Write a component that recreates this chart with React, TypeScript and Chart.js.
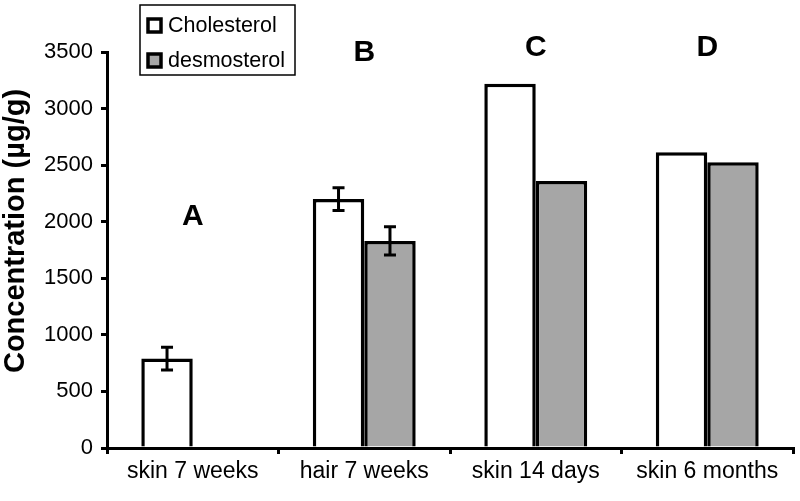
import React, { useEffect, useRef } from "react";
import { Chart, registerables } from "chart.js";

Chart.register(...registerables);

const categories = ["skin 7 weeks", "hair 7 weeks", "skin 14 days", "skin 6 months"];
const cholesterol = [790, 2200, 3220, 2615];
const cholesterolErr = [100, 100, 0, 0];
const desmosterol: (number | null)[] = [null, 1830, 2360, 2525];
const desmosterolErr = [0, 125, 0, 0];
const groupLetters = ["A", "B", "C", "D"];
const letterLevels = [2040, 3490, 3535, 3535];
const yTicks = [0, 500, 1000, 1500, 2000, 2500, 3000, 3500];
const yTitle = "Concentration (µg/g)";

const FONT = '"Liberation Sans", Arial, Helvetica, sans-serif';

const errorBarPlugin = {
  id: "errorBars",
  afterDatasetsDraw(chart: any) {
    const ctx = chart.ctx;
    const yScale = chart.scales.y;
    const errs = [cholesterolErr, desmosterolErr];
    ctx.save();
    ctx.strokeStyle = "#000";
    ctx.lineWidth = 3;
    chart.data.datasets.forEach((ds: any, i: number) => {
      const meta = chart.getDatasetMeta(i);
      meta.data.forEach((el: any, j: number) => {
        const v = ds.data[j];
        const e = errs[i][j];
        if (v == null || !e) return;
        const x = el.x;
        const yt = yScale.getPixelForValue(v + e);
        const yb = yScale.getPixelForValue(v - e);
        ctx.beginPath();
        ctx.moveTo(x, yt);
        ctx.lineTo(x, yb);
        ctx.moveTo(x - 6, yt);
        ctx.lineTo(x + 6, yt);
        ctx.moveTo(x - 6, yb);
        ctx.lineTo(x + 6, yb);
        ctx.stroke();
      });
    });
    ctx.restore();
  },
};

const lettersPlugin = {
  id: "groupLetters",
  afterDraw(chart: any) {
    const ctx = chart.ctx;
    const xs = chart.scales.x;
    const ys = chart.scales.y;
    ctx.save();
    ctx.fillStyle = "#000";
    ctx.font = `bold 30px ${FONT}`;
    ctx.textAlign = "center";
    ctx.textBaseline = "middle";
    groupLetters.forEach((l, j) => {
      ctx.fillText(l, xs.getPixelForValue(j), ys.getPixelForValue(letterLevels[j]));
    });
    // y-axis title
    ctx.save();
    ctx.translate(16, 231);
    ctx.rotate(-Math.PI / 2);
    ctx.font = `bold 29px ${FONT}`;
    ctx.fillText(yTitle, 0, 0);
    ctx.restore();
    ctx.restore();
  },
};

const legendPlugin = {
  id: "boxLegend",
  afterDraw(chart: any) {
    const ctx = chart.ctx;
    const items = chart.data.datasets.map((d: any) => ({ label: d.label, fill: d.backgroundColor }));
    ctx.save();
    ctx.fillStyle = "#fff";
    ctx.fillRect(140, 5, 155, 70);
    ctx.strokeStyle = "#000";
    ctx.lineWidth = 1.5;
    ctx.strokeRect(140, 5, 155, 70);
    ctx.font = `21.5px ${FONT}`;
    ctx.textBaseline = "middle";
    ctx.textAlign = "left";
    items.forEach((it: any, i: number) => {
      const cy = 25 + i * 35;
      ctx.fillStyle = it.fill;
      ctx.fillRect(148, cy - 6, 13, 13);
      ctx.lineWidth = 3.5;
      ctx.strokeStyle = "#000";
      ctx.strokeRect(148, cy - 6, 13, 13);
      ctx.fillStyle = "#000";
      ctx.fillText(it.label, 168, cy + 1);
    });
    ctx.restore();
  },
};

export default function App() {
  const ref = useRef<HTMLCanvasElement | null>(null);
  useEffect(() => {
    if (!ref.current) return;
    Chart.defaults.font.family = FONT;
    const chart = new Chart(ref.current, {
      type: "bar",
      data: {
        labels: categories,
        datasets: [
          {
            label: "Cholesterol",
            data: cholesterol,
            backgroundColor: "#ffffff",
            borderColor: "#000000",
            borderWidth: 3.5,
            categoryPercentage: 0.6,
            barPercentage: 1,
          },
          {
            label: "desmosterol",
            data: desmosterol,
            backgroundColor: "#a6a6a6",
            borderColor: "#000000",
            borderWidth: 3.5,
            categoryPercentage: 0.6,
            barPercentage: 1,
          },
        ],
      },
      options: {
        responsive: false,
        animation: false,
        devicePixelRatio: 1,
        layout: { padding: { top: 52, right: 7, left: 0, bottom: 0 } },
        plugins: {
          legend: { display: false },
          tooltip: { enabled: false },
        },
        scales: {
          x: {
            grid: {
              display: true,
              drawOnChartArea: false,
              drawTicks: true,
              tickLength: 6,
              color: "#000",
              lineWidth: 3,
              offset: true,
            },
            border: { display: true, color: "#000", width: 3 },
            ticks: { color: "#000", font: { size: 23 }, padding: 4, maxRotation: 0 },
            afterFit: (s: any) => {
              s.height = 53;
            },
          },
          y: {
            min: 0,
            max: 3500,
            afterBuildTicks: (s: any) => {
              s.ticks = yTicks.map((v) => ({ value: v }));
            },
            grid: {
              display: true,
              drawOnChartArea: false,
              drawTicks: true,
              tickLength: 6,
              color: "#000",
              lineWidth: 3,
            },
            border: { display: true, color: "#000", width: 3 },
            ticks: {
              color: "#000",
              font: { size: 22 },
              padding: 8,
              callback: (v: any) => String(v),
            },
            title: { display: false },
            afterFit: (s: any) => {
              s.width = 107;
            },
          },
        },
      },
      plugins: [errorBarPlugin, lettersPlugin, legendPlugin],
    });
    return () => chart.destroy();
  }, []);
  return (
    <div style={{ position: "absolute", left: 0, top: 0, width: 800, height: 501, background: "#fff" }}>
      <canvas ref={ref} width={800} height={501} />
    </div>
  );
}
